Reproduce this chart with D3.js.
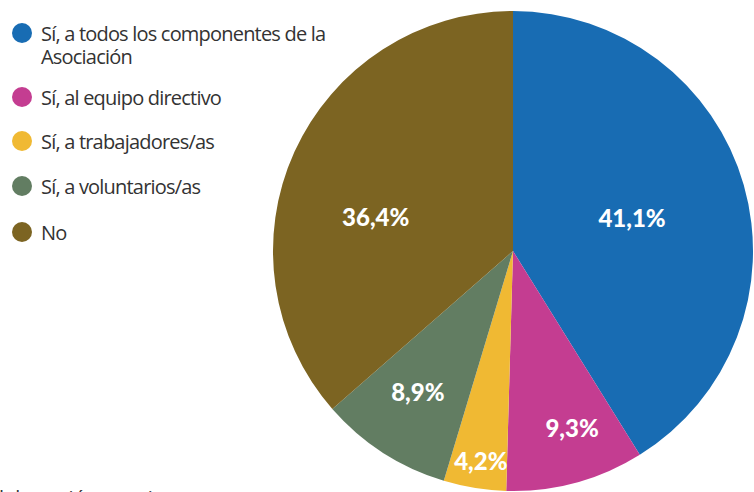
<!DOCTYPE html>
<html>
<head>
<meta charset="utf-8">
<script src="https://cdn.jsdelivr.net/npm/d3@7"></script>
<style>
  body { margin: 0; background: #fff; }
  svg { display: block; }
</style>
</head>
<body>
<div id="chart"></div>
<script>
// categories and values
const categories = [
  "Sí, a todos los componentes de la Asociación",
  "Sí, al equipo directivo",
  "Sí, a trabajadores/as",
  "Sí, a voluntarios/as",
  "No"
];
const values = [41.1, 9.3, 4.2, 8.9, 36.4];
const colors = ["#186cb3", "#c43d91", "#f0b933", "#627d62", "#7c6422"];

const width = 754, height = 492;
const cx = 513, cy = 251, radius = 240;

// label distance from centre, per slice (labels were hand placed in the original)
const labelDist = [128, 188, 214, 172, 142];
const labelShift = [[-4, 3], [10, -4], [2, -1], [-2, -3], [-8, 25]];

const svg = d3.select("#chart")
  .append("svg")
    .attr("width", width)
    .attr("height", height);

const pie = d3.pie().sort(null).value(d => d)(values);

const arc = d3.arc().innerRadius(0).outerRadius(radius);

const g = svg.append("g").attr("transform", `translate(${cx},${cy})`);

g.selectAll("path")
  .data(pie)
  .join("path")
    .attr("d", arc)
    .attr("fill", (d, i) => colors[i]);

g.selectAll("text")
  .data(pie)
  .join("text")
    .attr("transform", (d, i) => {
      const c = d3.arc().innerRadius(labelDist[i]).outerRadius(labelDist[i]).centroid(d);
      return `translate(${c[0] + labelShift[i][0]},${c[1] + labelShift[i][1]})`;
    })
    .attr("text-anchor", "middle")
    .attr("dy", "0.36em")
    .attr("fill", "#fff")
    .style("font-family", "Lato, sans-serif")
    .style("font-weight", "900")
    .style("font-size", "24px")
    .text(d => d3.format(".1f")(d.data).replace(".", ",") + "%");

// legend
const legendY = [33, 97, 141, 186, 232];
const legend = svg.append("g");

categories.forEach((c, i) => {
  legend.append("circle")
    .attr("cx", 22)
    .attr("cy", legendY[i])
    .attr("r", 10)
    .attr("fill", colors[i]);

  const t = legend.append("text")
    .attr("x", 41)
    .attr("y", legendY[i] + 8)
    .attr("fill", "#333")
    .style("font-family", "'Open Sans', sans-serif")
    .style("font-size", "20px")
    .style("letter-spacing", "-0.8px");

  if (i === 0) {
    t.append("tspan").text("Sí, a todos los componentes de la");
    t.append("tspan").attr("x", 41).attr("dy", 23).text("Asociación");
  } else {
    t.text(c);
  }
});

// source note, cut at the bottom edge as in the original
svg.append("text")
  .attr("x", -12)
  .attr("y", 505)
  .attr("fill", "#333")
  .style("font-family", "'Open Sans', sans-serif")
  .style("font-size", "20px")
  .text("Elaboración propia");
</script>
</body>
</html>
